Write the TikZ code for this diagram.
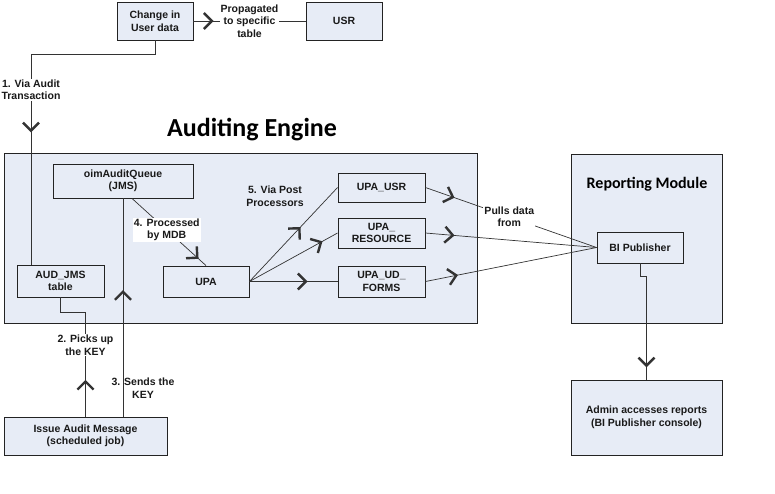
\documentclass[tikz,border=0pt]{standalone}
\usepackage{fontspec}
\setmainfont{Liberation Sans}
\newfontfamily\titlefont{Carlito}
\usetikzlibrary{arrows.meta}
\usetikzlibrary{calc,positioning}
\usetikzlibrary{decorations.markings}
\definecolor{boxfill}{RGB}{231,236,246}
\definecolor{boxline}{RGB}{35,35,35}
\definecolor{txt}{RGB}{25,25,25}

\tikzset{
  chev/.tip={Straight Barb[length=8pt,width=16pt,line width=2.4pt]},
  box/.style={draw=boxline, fill=boxfill, line width=0.9pt, align=center, inner sep=1pt,
    text=txt, font=\fontsize{10.5}{12.5}\selectfont\bfseries},
  group/.style={draw=boxline, fill=boxfill, line width=0.9pt},
  lbl/.style={align=center, inner sep=1pt, text=txt, font=\fontsize{10.5}{12.5}\selectfont\bfseries},
  title/.style={text=black, font=\titlefont\bfseries},
  conn/.style={draw=black!80, line width=0.7pt},
  arrowat/.style={postaction={decorate}, decoration={markings, mark=at position #1 with {\arrow{chev}}}},
}

\begin{document}
\begin{tikzpicture}[x=1pt, y=-1pt]
\useasboundingbox (0,0) rectangle (775,493);

% the two modules
\node[group, minimum width=473pt, minimum height=170pt] (eng) at (240.5,238) {};
\node[group, minimum width=151pt, minimum height=169pt] (rep) at (646.5,238.5) {};
\node[title, font=\titlefont\bfseries\fontsize{26}{30}\selectfont] (engt) at (252,130) {Auditing Engine};
\node[title, font=\titlefont\bfseries\fontsize{16}{19}\selectfont] (rept) at (647,184) {Reporting Module};

% boxes
\node[box, minimum width=76pt, minimum height=38pt] (chg) at (155,21) {Change in\\User data};
\node[box, minimum width=76pt, minimum height=38pt] (usr) at (344,21) {USR};
\node[box, minimum width=140pt, minimum height=34pt] (q) at (123,181) {oimAuditQueue\\(JMS)};
\node[box, minimum width=87pt, minimum height=32pt] (aud) at (60.5,281) {AUD\_JMS\\table};
\node[box, minimum width=86pt, minimum height=31pt] (upa) at (206,281.5) {UPA};
\node[box, minimum width=87pt, minimum height=29pt] (pusr) at (381.5,187.5) {UPA\_USR};
\node[box, minimum width=87pt, minimum height=30pt] (pres) at (381.5,233) {UPA\_\\RESOURCE};
\node[box, minimum width=87pt, minimum height=31pt] (pudf) at (381.5,281.5) {UPA\_UD\_\\FORMS};
\node[box, minimum width=86pt, minimum height=31pt] (bi) at (640,247.5) {BI Publisher};
\node[box, minimum width=163pt, minimum height=38pt] (iss) at (85.5,436) {Issue Audit Message\\(scheduled job)};
\node[box, minimum width=151pt, minimum height=75pt] (adm) at (646.5,417.5) {Admin accesses reports\\(BI Publisher console)};

% connectors
\draw[conn, arrowat=0.18] (chg.east) -- node[lbl, fill=white] {Propagated\\to specific\\table} (usr.west);

\coordinate (c1) at (31,54);
\draw[conn, arrowat=0.62] (chg.south) |- (c1) -- (c1 |- aud.north)
  node[lbl, fill=white, pos=0.17] {1. Via Audit\\Transaction};

\draw[conn, arrowat=0.255] (iss.north) |- node[lbl, fill=white, pos=0.343] {2. Picks up\\the KEY}
  ($(aud.south)+(0,15)$) -- (aud.south);

\draw[conn, arrowat=0.58] (q.south |- iss.north) -- (q.south)
  node[lbl, pos=0.13, xshift=20pt] {3. Sends the\\KEY};

\draw[conn, arrowat=0.9] ([xshift=9pt]q.south) -- node[lbl, fill=white, pos=0.47] {4. Processed\\by MDB} (upa.north);

\node[lbl] (via) at (275,196) {5. Via Post\\Processors};
\draw[conn, arrowat=0.58] (upa.east) -- (pusr.west);
\draw[conn, arrowat=0.83] (upa.east) -- (pres.west);
\draw[conn, arrowat=0.66] (upa.east) -- (pudf.west);

\draw[conn, arrowat=0.17] (pres.east) -- (bi.west);
\draw[conn, arrowat=0.19] (pudf.east) -- (bi.west);
\draw[conn, arrowat=0.17] (pusr.east) -- node[lbl, fill=white, pos=0.49] {Pulls data\\from} (bi.west);

\draw[conn, arrowat=0.9] (bi.south) -- ++(0,13) -| (adm.north);
\end{tikzpicture}
\end{document}
